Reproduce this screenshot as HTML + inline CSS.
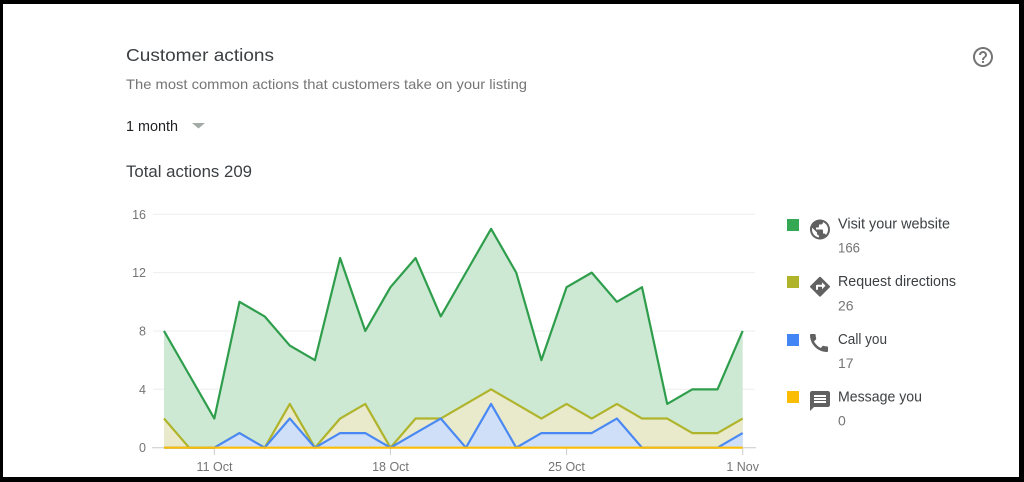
<!DOCTYPE html>
<html>
<head>
<meta charset="utf-8">
<style>
html,body{margin:0;padding:0;background:#000;}
body{width:1024px;height:482px;overflow:hidden;}
svg{display:block;font-family:"Liberation Sans",Arial,sans-serif;}
</style>
</head>
<body>
<svg width="1024" height="482" viewBox="0 0 1024 482" xmlns="http://www.w3.org/2000/svg">
  <rect x="0" y="0" width="1024" height="482" fill="#000"/>
  <rect x="3" y="4" width="1016" height="473" fill="#fff"/>

  <!-- Header -->
  <text x="126" y="61" font-size="17.5" fill="#3c4043" textLength="148" lengthAdjust="spacingAndGlyphs">Customer actions</text>
  <text x="126" y="89" font-size="14" fill="#757575" textLength="401" lengthAdjust="spacingAndGlyphs">The most common actions that customers take on your listing</text>
  <text x="126" y="131" font-size="15" fill="#202124" textLength="52" lengthAdjust="spacingAndGlyphs">1 month</text>
  <polygon points="192,123 205,123 198.5,128.5" fill="#a4aaa6"/>
  <text x="126" y="177" font-size="17" fill="#3c4043" textLength="126" lengthAdjust="spacingAndGlyphs">Total actions 209</text>

  <!-- Help icon -->
  <g transform="translate(971,45)" fill="#757575">
    <path d="M11 18h2v-2h-2v2zm1-16C6.480 2 2 6.48 2 12s4.48 10 10 10 10-4.48 10-10S17.52 2 12 2zm0 18c-4.41 0-8-3.59-8-8s3.59-8 8-8 8 3.59 8 8-3.59 8-8 8zm0-14c-2.21 0-4 1.79-4 4h2c0-1.1.9-2 2-2s2 .9 2 2c0 2-3 1.75-3 5h2c0-2.25 3-2.5 3-5 0-2.210-1.79-4-4-4z"/>
  </g>

  <!-- Gridlines -->
  <g stroke="#eeeeee" stroke-width="1">
    <line x1="153" y1="214.3" x2="755" y2="214.3"/>
    <line x1="153" y1="272.6" x2="755" y2="272.6"/>
    <line x1="153" y1="331" x2="755" y2="331"/>
    <line x1="153" y1="389.3" x2="755" y2="389.3"/>
  </g>
  <line x1="152" y1="447.7" x2="756" y2="447.7" stroke="#c8c8c8" stroke-width="1"/>
  <!-- x ticks -->
  <g stroke="#cccccc" stroke-width="1">
    <line x1="214.3" y1="448" x2="214.3" y2="455"/>
    <line x1="390.4" y1="448" x2="390.4" y2="455"/>
    <line x1="566.6" y1="448" x2="566.6" y2="455"/>
    <line x1="742.7" y1="448" x2="742.7" y2="455"/>
  </g>

  <!-- Y labels -->
  <g font-size="12.5" fill="#757575" text-anchor="end">
    <text x="146" y="218.8">16</text>
    <text x="146" y="277.1">12</text>
    <text x="146" y="335.5">8</text>
    <text x="146" y="393.8">4</text>
    <text x="146" y="452.2">0</text>
  </g>
  <!-- X labels -->
  <g font-size="12.5" fill="#757575" text-anchor="middle">
    <text x="214.5" y="471">11 Oct</text>
    <text x="390.5" y="471">18 Oct</text>
    <text x="566.5" y="471">25 Oct</text>
    <text x="742.7" y="471">1 Nov</text>
  </g>

  <!-- Green series (total) -->
  <polygon fill="#cde9d4" points="164,330.98 189.16,374.75 214.32,418.52 239.48,301.8 264.64,316.39 289.8,345.57 314.96,360.16 340.12,258.03 365.28,330.98 390.44,287.21 415.6,258.03 440.76,316.39 465.92,272.62 491.08,228.85 516.24,272.62 541.4,360.16 566.56,287.21 591.72,272.62 616.88,301.8 642.04,287.21 667.2,403.93 692.36,389.34 717.52,389.34 742.68,330.98 742.68,447.7 164,447.7"/>
  <polyline fill="none" stroke="#2f9e4c" stroke-width="2.2" stroke-linejoin="round" points="164,330.98 189.16,374.75 214.32,418.52 239.48,301.8 264.64,316.39 289.8,345.57 314.96,360.16 340.12,258.03 365.28,330.98 390.44,287.21 415.6,258.03 440.76,316.39 465.92,272.62 491.08,228.85 516.24,272.62 541.4,360.16 566.56,287.21 591.72,272.62 616.88,301.8 642.04,287.21 667.2,403.93 692.36,389.34 717.52,389.34 742.68,330.98"/>

  <!-- Olive series -->
  <polygon fill="#e9e9cb" points="164,418.52 189.16,447.7 214.32,447.7 239.48,433.11 264.64,447.7 289.8,403.93 314.96,447.7 340.12,418.52 365.28,403.93 390.44,447.7 415.6,418.52 440.76,418.52 465.92,403.93 491.08,389.34 516.24,403.93 541.4,418.52 566.56,403.93 591.72,418.52 616.88,403.93 642.04,418.52 667.2,418.52 692.36,433.11 717.52,433.11 742.68,418.52 742.68,447.7 164,447.7"/>
  <polyline fill="none" stroke="#afb42b" stroke-width="2.2" stroke-linejoin="round" points="164,418.52 189.16,447.7 214.32,447.7 239.48,433.11 264.64,447.7 289.8,403.93 314.96,447.7 340.12,418.52 365.28,403.93 390.44,447.7 415.6,418.52 440.76,418.52 465.92,403.93 491.08,389.34 516.24,403.93 541.4,418.52 566.56,403.93 591.72,418.52 616.88,403.93 642.04,418.52 667.2,418.52 692.36,433.11 717.52,433.11 742.68,418.52"/>

  <!-- Blue series -->
  <polygon fill="#cfdff8" points="164,447.7 189.16,447.7 214.32,447.7 239.48,433.11 264.64,447.7 289.8,418.52 314.96,447.7 340.12,433.11 365.28,433.11 390.44,447.7 415.6,433.11 440.76,418.52 465.92,447.7 491.08,403.93 516.24,447.7 541.4,433.11 566.56,433.11 591.72,433.11 616.88,418.52 642.04,447.7 667.2,447.7 692.36,447.7 717.52,447.7 742.68,433.11 742.68,447.7 164,447.7"/>
  <polyline fill="none" stroke="#4a89f3" stroke-width="2.2" stroke-linejoin="round" points="164,447.7 189.16,447.7 214.32,447.7 239.48,433.11 264.64,447.7 289.8,418.52 314.96,447.7 340.12,433.11 365.28,433.11 390.44,447.7 415.6,433.11 440.76,418.52 465.92,447.7 491.08,403.93 516.24,447.7 541.4,433.11 566.56,433.11 591.72,433.11 616.88,418.52 642.04,447.7 667.2,447.7 692.36,447.7 717.52,447.7 742.68,433.11"/>

  <!-- Yellow series (zero) -->
  <line x1="164" y1="447.7" x2="742.68" y2="447.7" stroke="#fbbc04" stroke-width="2.2"/>

  <!-- Legend -->
  <rect x="787" y="219" width="12" height="12" fill="#34a853"/>
  <rect x="787" y="276" width="12" height="12" fill="#afb42b"/>
  <rect x="787" y="334" width="12" height="12" fill="#4285f4"/>
  <rect x="787" y="391" width="12" height="12" fill="#fbbc04"/>

  <g fill="#616161">
    <g transform="translate(808,217.5)">
      <path d="M12 2C6.48 2 2 6.48 2 12s4.48 10 10 10 10-4.48 10-10S17.52 2 12 2zm-1 17.93c-3.95-.49-7-3.85-7-7.93 0-.62.08-1.21.21-1.79L9 15v1c0 1.1.9 2 2 2v1.930zm6.9-2.54c-.26-.81-1-1.39-1.9-1.39h-1v-3c0-.55-.45-1-1-1H8v-2h2c.55 0 1-.45 1-1V7h2c1.1 0 2-.9 2-2v-.41c2.93 1.19 5 4.06 5 7.41 0 2.08-.8 3.97-2.1 5.39z"/>
    </g>
    <g transform="translate(808,274.7)">
      <path d="M21.71 11.29l-9-9c-.39-.39-1.02-.39-1.41 0l-9 9c-.39.39-.39 1.02 0 1.41l9 9c.39.39 1.02.39 1.41 0l9-9c.39-.38.39-1.01 0-1.41zM14 14.5V12h-4v3H8v-4c0-.55.45-1 1-1h5V7.5l3.5 3.5-3.5 3.5z"/>
    </g>
    <g transform="translate(807,331)">
      <path d="M20.01 15.38c-1.23 0-2.42-.2-3.53-.56-.35-.12-.74-.03-1.01.24l-1.57 1.97c-2.83-1.35-5.48-3.9-6.89-6.83l1.95-1.66c.27-.28.35-.67.24-1.02-.37-1.11-.56-2.3-.56-3.53 0-.54-.45-.99-.99-.99H4.19C3.65 3 3 3.24 3 3.99 3 13.28 10.730 21 20.01 21c.71 0 .99-.63.99-1.18v-3.45c0-.54-.45-.99-.99-.99z"/>
    </g>
    <g transform="translate(808,389)">
      <path d="M20 2H4c-1.1 0-1.99.9-1.99 2L2 22l4-4h14c1.1 0 2-.9 2-2V4c0-1.1-.9-2-2-2zm-2 12H6v-2h12v2zm0-3H6V9h12v2zm0-3H6V6h12v2z"/>
    </g>
  </g>

  <g font-size="15" fill="#3c4043">
    <text x="838" y="228.5" textLength="112" lengthAdjust="spacingAndGlyphs">Visit your website</text>
    <text x="838" y="286.2" textLength="118" lengthAdjust="spacingAndGlyphs">Request directions</text>
    <text x="838" y="343.8" textLength="49" lengthAdjust="spacingAndGlyphs">Call you</text>
    <text x="838" y="401.5" textLength="84" lengthAdjust="spacingAndGlyphs">Message you</text>
  </g>
  <g font-size="14" fill="#757575">
    <text x="838" y="252.7" textLength="22" lengthAdjust="spacingAndGlyphs">166</text>
    <text x="838" y="310.4">26</text>
    <text x="838" y="368">17</text>
    <text x="838" y="425.7">0</text>
  </g>
</svg>
</body>
</html>
